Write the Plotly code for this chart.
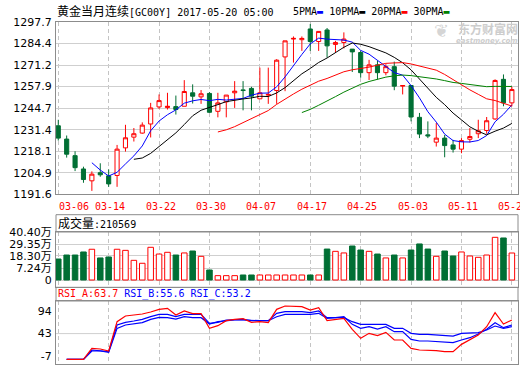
import plotly.graph_objects as go
import pandas as pd

# ---------------- data ----------------
TICK_IDX = [0, 6, 12, 18, 24, 30, 36, 42, 48, 54]
TICK_LABELS = ["03-06", "03-14", "03-22", "03-30", "04-07", "04-17",
               "04-25", "05-03", "05-11", "05-20"]

OPEN = [1233.8, 1225.6, 1215.4, 1207.2, 1199.9, 1204.9, 1203.0, 1203.2, 1220.2, 1226.8,
        1229.3, 1234.9, 1245.4, 1245.0, 1245.6, 1245.8, 1254.1, 1251.6, 1253.7, 1242.7,
        1248.5, 1254.1, 1255.9, 1256.8, 1250.4, 1252.7, 1255.5, 1276.2, 1287.2, 1286.8,
        1293.4, 1285.7, 1292.8, 1283.9, 1285.1, 1281.0, 1278.9, 1266.5, 1271.3, 1266.5,
        1270.2, 1258.2, 1258.6, 1239.0, 1228.2, 1223.7, 1226.2, 1222.0, 1219.4, 1225.5,
        1228.9, 1230.9, 1238.0, 1262.4, 1247.9]
HIGH = [1237.5, 1227.8, 1218.1, 1208.6, 1205.7, 1210.7, 1206.9, 1222.0, 1234.4, 1232.4,
        1235.9, 1247.9, 1253.1, 1254.1, 1252.4, 1261.9, 1259.3, 1255.8, 1254.5, 1254.1,
        1252.7, 1261.3, 1261.3, 1257.8, 1269.6, 1269.6, 1274.8, 1286.1, 1288.8, 1288.8,
        1296.5, 1291.9, 1294.0, 1286.1, 1291.3, 1281.0, 1279.9, 1274.4, 1273.7, 1271.7,
        1273.3, 1258.6, 1258.6, 1241.7, 1236.5, 1235.5, 1228.2, 1225.1, 1226.2, 1232.4,
        1237.5, 1239.2, 1262.4, 1265.4, 1257.8]
LOW = [1224.7, 1214.2, 1205.9, 1198.7, 1193.7, 1202.4, 1196.2, 1196.2, 1217.9, 1224.1,
       1228.9, 1226.6, 1244.2, 1243.8, 1240.7, 1245.8, 1247.5, 1247.3, 1241.7, 1239.0,
       1239.0, 1244.8, 1243.3, 1243.3, 1250.4, 1247.3, 1247.3, 1255.1, 1272.7, 1279.9,
       1279.9, 1279.9, 1275.8, 1278.9, 1281.4, 1266.9, 1263.4, 1262.0, 1262.4, 1264.9,
       1255.7, 1253.1, 1236.5, 1226.2, 1226.2, 1221.0, 1214.4, 1217.3, 1216.9, 1223.5,
       1226.2, 1228.9, 1237.5, 1245.8, 1245.8]
CLOSE = [1226.2, 1216.3, 1208.0, 1200.7, 1204.0, 1203.6, 1198.0, 1219.4, 1226.4, 1228.9,
         1234.2, 1244.8, 1249.3, 1245.8, 1243.8, 1254.9, 1252.0, 1253.5, 1242.1, 1247.9,
         1252.7, 1255.1, 1255.5, 1252.0, 1254.1, 1253.1, 1274.2, 1286.1, 1287.6, 1287.6,
         1285.7, 1291.9, 1283.0, 1285.1, 1287.2, 1279.3, 1266.5, 1271.3, 1266.5, 1270.2,
         1258.2, 1258.6, 1239.2, 1228.7, 1227.6, 1226.2, 1221.6, 1219.4, 1224.7, 1227.2,
         1230.7, 1236.9, 1261.7, 1247.9, 1256.1]

# volume in 万 (chart floor labelled "0" sits at VOL_FLOOR)
VOLUME = [15.5, 19.2, 19.2, 22.0, 24.5, 16.5, 17.4, 24.5, 23.5, 14.3,
          11.6, 26.3, 20.1, 21.7, 19.2, 21.1, 22.9, 18.0, 5.4, 0.2,
          0.2, 0.2, 0.8, 0.8, 0.8, 0.8, 0.8, 0.8, 0.8, 0.8,
          0.8, 0.8, 24.7, 22.6, 21.1, 27.5, 23.8, 22.6, 20.1, 16.5,
          19.2, 16.5, 23.8, 29.4, 24.7, 18.0, 22.9, 18.3, 22.0, 18.3,
          17.1, 19.2, 35.5, 34.9, 21.06]
VOL_FLOOR = -3.81
VOL_TICKS = [7.24, 18.30, 29.35, 40.40]

RSI_A = [None, -14.4, -14.4, -14.4, 10.1, 8.6, 4.2, 69.6, 82.2, 84.5,
         86.7, 91.1, 97.1, 99.3, 84.5, 93.4, 87.4, 87.4, 54.7, 60.7,
         71.8, 74.8, 76.3, 68.1, 69.6, 67.4, 97.1, 104.5, 104.5, 103.0,
         95.6, 100.8, 71.8, 74.8, 77.0, 52.5, 32.4, 43.6, 38.4, 45.8,
         28.7, 28.7, 10.1, 6.4, 6.4, 4.9, 2.7, 2.7, 19.0, 30.2,
         39.9, 58.4, 89.7, 64.4, 73.3]
RSI_B = [None, -14.4, -14.4, -14.4, 6.4, 4.9, 2.7, 62.2, 68.1, 71.1,
         74.8, 80.7, 85.9, 85.9, 80.7, 85.9, 85.9, 85.9, 65.9, 68.1,
         73.3, 74.8, 74.8, 71.8, 71.8, 71.8, 88.2, 91.9, 91.9, 91.9,
         89.7, 93.4, 78.5, 78.5, 80.7, 63.6, 54.7, 58.4, 53.2, 58.4,
         47.3, 47.3, 30.2, 26.5, 26.5, 25.0, 22.8, 22.8, 28.7, 33.9,
         42.1, 52.5, 67.4, 56.2, 62.2]
RSI_C = [None, -14.4, -14.4, -14.4, 4.2, 4.2, 1.2, 54.7, 62.2, 64.4,
         67.4, 74.8, 79.3, 78.5, 75.5, 80.7, 78.5, 78.5, 64.4, 69.6,
         71.8, 73.3, 73.3, 71.8, 71.8, 71.8, 80.7, 85.9, 85.9, 85.9,
         85.9, 88.2, 77.0, 78.5, 78.5, 69.6, 63.6, 63.6, 63.6, 63.6,
         54.7, 54.7, 43.6, 41.3, 41.3, 39.9, 37.6, 37.6, 43.6, 43.6,
         45.1, 51.0, 59.9, 54.7, 58.4]
RSI_TICKS = [94, 43, -7]
RSI_MID = 43

PRICE_TICKS = [1191.6, 1204.9, 1218.1, 1231.4, 1244.7, 1257.9, 1271.2, 1284.4, 1297.7]
MA_PERIODS = [5, 10, 20, 30]
MA_COLORS = ["#0000ff", "#000000", "#ff0000", "#008000"]

TITLE_CN = "黄金当月连续"
TITLE_REST = "[GC00Y] 2017-05-20 05:00"
VOL_LAST = "210569"
RSI_LAST = ["63.7", "55.6", "53.2"]

# ---------------- styling / layout helpers ----------------
RED = "#ff0000"
GREEN = "#006f34"
FRAME = "#8c8c8c"
GRID = "#cfcfcf"
MONO = "DejaVu Sans Mono, Noto Sans CJK SC, monospace"
SANS = "DejaVu Sans, Noto Sans CJK SC, sans-serif"

W, H = 520, 365
ML, MR, MT, MB = 56, 2, 22, 1
PH = H - MT - MB
PW = W - ML - MR


def py(y):
    return (H - MB - y) / PH


def px(x):
    return (x - ML) / PW


x = list(range(len(CLOSE)))
close_s = pd.Series(CLOSE)

fig = go.Figure()

fig.add_trace(go.Candlestick(
    x=x, open=OPEN, high=HIGH, low=LOW, close=CLOSE,
    increasing=dict(line=dict(color=RED, width=1), fillcolor="#ffffff"),
    decreasing=dict(line=dict(color=GREEN, width=1), fillcolor=GREEN),
    whiskerwidth=0, showlegend=False, hoverinfo="skip",
    xaxis="x", yaxis="y"))

for n, c in zip(MA_PERIODS, MA_COLORS):
    ma = close_s.rolling(n).mean()
    fig.add_trace(go.Scatter(x=x, y=ma, mode="lines",
                             line=dict(color=c, width=1),
                             showlegend=False, hoverinfo="skip",
                             xaxis="x", yaxis="y"))

up = [c >= o for o, c in zip(OPEN, CLOSE)]
fig.add_trace(go.Bar(
    x=x, y=[v - VOL_FLOOR for v in VOLUME], base=VOL_FLOOR, width=0.66,
    marker=dict(color=["#ffffff" if u else GREEN for u in up],
                line=dict(color=[RED if u else GREEN for u in up], width=1)),
    showlegend=False, hoverinfo="skip", xaxis="x2", yaxis="y2"))

for vals, col in [(RSI_C, "#0000ff"), (RSI_B, "#0000ff"), (RSI_A, RED)]:
    fig.add_trace(go.Scatter(x=x, y=vals, mode="lines",
                             line=dict(color=col, width=1.2),
                             showlegend=False, hoverinfo="skip",
                             xaxis="x3", yaxis="y3"))

xr = [-0.27, len(CLOSE) - 1 + 0.73]
xcommon = dict(range=xr, showgrid=True, gridcolor="#c4c4c4", griddash="4px,3px",
               gridwidth=1, tickvals=TICK_IDX, showticklabels=False, ticks="",
               showline=True, mirror=True, linecolor=FRAME, linewidth=1,
               zeroline=False, fixedrange=True, automargin=False)
ycommon = dict(showline=True, mirror=True, linecolor=FRAME, linewidth=1,
               zeroline=False, ticks="", tickfont=dict(family=SANS, size=11, color="#000"),
               ticklabelstandoff=1, fixedrange=True, automargin=False)

vol_top = VOL_TICKS[-1]
vol_scale = (vol_top - VOL_FLOOR) / (280 - 232)
vol_bottom = VOL_FLOOR - (287.3 - 280) * vol_scale

fig.update_layout(
    template="none",
    width=W, height=H, paper_bgcolor="#ffffff", plot_bgcolor="#ffffff",
    margin=dict(l=ML, r=MR, t=MT, b=MB, pad=0, autoexpand=False),
    xaxis=dict(**xcommon, domain=[0, 1], anchor="y", rangeslider=dict(visible=False)),
    xaxis2=dict(**xcommon, domain=[0, 1], anchor="y2", matches="x"),
    xaxis3=dict(**xcommon, domain=[0, 1], anchor="y3", matches="x"),
    yaxis=dict(**ycommon, domain=[py(194.3), 1], range=[PRICE_TICKS[0], PRICE_TICKS[-1]],
               tickvals=PRICE_TICKS, ticktext=[f"{v:.1f}" for v in PRICE_TICKS],
               showgrid=True, gridcolor=GRID, anchor="x"),
    yaxis2=dict(**ycommon, domain=[py(287.3), py(232)], range=[vol_bottom, vol_top],
                tickvals=[VOL_FLOOR] + VOL_TICKS,
                ticktext=["0"] + [f"{v:.2f}万" for v in VOL_TICKS],
                showgrid=True, gridcolor=GRID, anchor="x2"),
    yaxis3=dict(**ycommon, domain=[0, py(301)], range=[-24.8, 115.7],
                tickvals=RSI_TICKS, ticktext=[str(v) for v in RSI_TICKS],
                showgrid=False, anchor="x3"),
    bargap=0.3, showlegend=False,
)

shapes = [
    dict(type="rect", xref="paper", yref="paper", x0=0, x1=1, y0=py(232), y1=py(214.7),
         line=dict(color=FRAME, width=1), fillcolor="rgba(0,0,0,0)", layer="above"),
    dict(type="rect", xref="paper", yref="paper", x0=0, x1=1, y0=py(301), y1=py(287.3),
         line=dict(color=FRAME, width=1), fillcolor="rgba(0,0,0,0)", layer="above"),
    dict(type="line", xref="x3 domain", yref="y3", x0=0, x1=1, y0=RSI_MID, y1=RSI_MID,
         line=dict(color=GRID, width=1), layer="below"),
]
fig.update_layout(shapes=shapes)

base_ann = dict(showarrow=False, align="left", borderpad=0, borderwidth=0)
ann = []
ann.append(dict(**base_ann, xref="paper", yref="paper", x=px(57), y=py(11.5),
                xanchor="left", yanchor="middle",
                text=f"<span style='font-size:12px'>{TITLE_CN}</span>{TITLE_REST}",
                font=dict(family=MONO, size=10, color="#000")))
legend_txt = "".join(
    f"{n}PMA<span style='color:{c}'>▬</span> " for n, c in zip(MA_PERIODS, MA_COLORS))
ann.append(dict(**base_ann, xref="paper", yref="paper", x=px(293), y=py(11.5),
                xanchor="left", yanchor="middle", text=legend_txt.strip(),
                font=dict(family=MONO, size=10, color="#000")))
ann.append(dict(**base_ann, xref="paper", yref="paper", x=px(518), y=py(28.5),
                xanchor="right", yanchor="middle", text="<b>东方财富网</b>",
                font=dict(family="Noto Sans CJK SC", size=12, color="#cdcdcd")))
ann.append(dict(**base_ann, xref="paper", yref="paper", x=px(518), y=py(41.5),
                xanchor="right", yanchor="middle", text="<b><i>eastmoney.com</i></b>",
                font=dict(family="DejaVu Sans", size=7, color="#cdcdcd")))
ann.append(dict(**base_ann, xref="paper", yref="paper", x=px(441), y=py(31),
                xanchor="center", yanchor="middle", text="<b>❦</b>",
                font=dict(family="DejaVu Sans", size=18, color="#d5d5d5")))
for i, (idx, lab) in enumerate(zip(TICK_IDX, TICK_LABELS)):
    ann.append(dict(**base_ann, xref="x", yref="paper", x=idx, y=py(206.5),
                    xanchor="left" if i == 0 else "center", xshift=1 if i == 0 else 1.5,
                    yanchor="middle", text=lab,
                    font=dict(family=MONO, size=10, color=RED)))
ann.append(dict(**base_ann, xref="paper", yref="paper", x=px(57.5), y=py(223.4),
                xanchor="left", yanchor="middle",
                text=f"<span style='font-size:12px'>成交量</span>:{VOL_LAST}",
                font=dict(family=MONO, size=10, color="#000")))
ann.append(dict(**base_ann, xref="paper", yref="paper", x=px(57.5), y=py(293.5),
                xanchor="left", yanchor="middle",
                text=(f"<span style='color:{RED}'>RSI_A:{RSI_LAST[0]}</span> "
                      f"<span style='color:#0000ff'>RSI_B:{RSI_LAST[1]} RSI_C:{RSI_LAST[2]}</span>"),
                font=dict(family=MONO, size=10, color="#000")))
fig.update_layout(annotations=ann)

fig.write_html("out.html", config={"displayModeBar": False},
               post_script="document.body.style.margin='0';document.body.style.padding='0';")
